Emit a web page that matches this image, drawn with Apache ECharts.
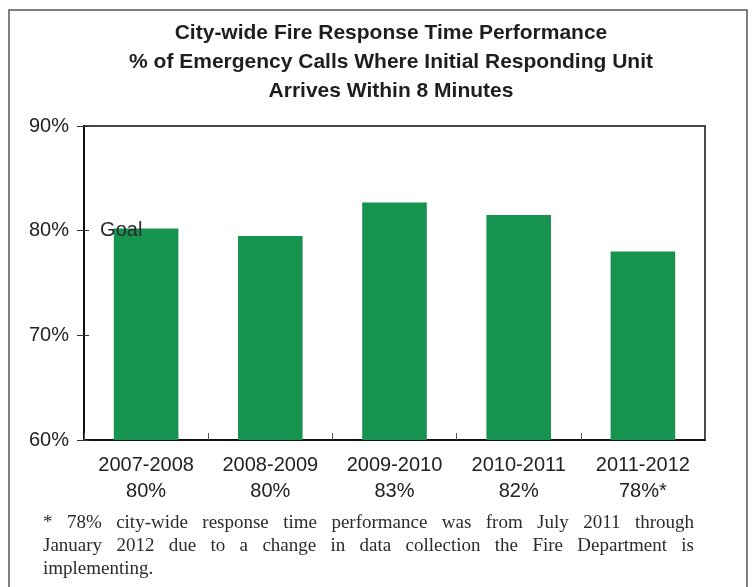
<!DOCTYPE html>
<html>
<head>
<meta charset="utf-8">
<script src="https://cdn.jsdelivr.net/npm/echarts@6/dist/echarts.min.js"></script>
<style>
  html, body { margin: 0; padding: 0; background: #fff; }
  #chart { width: 754px; height: 587px; }
</style>
</head>
<body>
<div id="chart"></div>
<script>
// Fiscal years and the share of emergency calls reached within 8 minutes (%)
const categories = ['2007-2008', '2008-2009', '2009-2010', '2010-2011', '2011-2012'];
const responsePct = [80.2, 79.5, 82.7, 81.5, 78.0];
const notes = ['', '', '', '', '*'];
const goalPct = 80;
const yTicks = [60, 70, 80, 90];

const titleLines = [
  'City-wide Fire Response Time Performance',
  '% of Emergency Calls Where Initial Responding Unit',
  'Arrives Within 8 Minutes'
];
const footnoteLines = [
  '* 78% city-wide response time performance was from July 2011 through',
  'January 2012 due to a change in data collection the Fire Department is',
  'implementing.'
];

const sans = "'Liberation Sans', Arial, sans-serif";
const serif = "'Liberation Serif', 'Times New Roman', serif";
const barColor = '#16934f';

// Category label: year on top, rounded value underneath
const labelFor = {};
categories.forEach((c, i) => {
  labelFor[c] = c + '\n' + Math.round(responsePct[i]) + '%' + notes[i];
});

// Justified footnote built word by word
const footFont = '19px ' + serif;
const measureCtx = document.createElement('canvas').getContext('2d');
measureCtx.font = footFont;
const footLeft = 43, footRight = 694, footTop = 525, footPitch = 23;
const footElems = [];
footnoteLines.forEach((line, li) => {
  const words = line.split(' ');
  const y = footTop + li * footPitch;
  const last = li === footnoteLines.length - 1;
  const widths = words.map(w => measureCtx.measureText(w).width);
  const total = widths.reduce((a, b) => a + b, 0);
  const gap = last || words.length < 2
    ? measureCtx.measureText(' ').width
    : (footRight - footLeft - total) / (words.length - 1);
  let x = footLeft;
  words.forEach((w, wi) => {
    footElems.push({
      type: 'text', left: x, top: y - 11, silent: true,
      style: { text: w, font: footFont, fill: '#2b2b2b' }
    });
    x += widths[wi] + gap;
  });
});

const chart = echarts.init(document.getElementById('chart'), null, { renderer: 'canvas' });

const yMin = yTicks[0], yMax = yTicks[yTicks.length - 1];
const yInterval = yTicks[1] - yTicks[0];

chart.setOption({
  backgroundColor: '#fff',
  animation: false,
  title: {
    text: titleLines.join('\n'),
    left: 386, top: 14, textAlign: 'center',
    textStyle: { fontFamily: sans, fontWeight: 'bold', fontSize: 21, lineHeight: 29, color: '#1e1e1e' }
  },
  grid: {
    left: 84, right: 49, top: 126, bottom: 147,
    show: true, borderColor: '#4a4a4a', borderWidth: 2, backgroundColor: 'transparent'
  },
  xAxis: {
    type: 'category',
    data: categories,
    boundaryGap: true,
    axisLine: { lineStyle: { color: '#111', width: 2 } },
    axisTick: { show: true, inside: true, interval: 0, length: 7, alignWithLabel: false, lineStyle: { color: '#555', width: 1 } },
    axisLabel: {
      interval: 0, hideOverlap: false,
      margin: 12,
      fontFamily: sans, fontSize: 20, lineHeight: 26, color: '#222',
      formatter: v => labelFor[v]
    },
    splitLine: { show: false }
  },
  yAxis: [
    {
      type: 'value', min: yMin, max: yMax, interval: yInterval,
      axisLine: { show: true, lineStyle: { color: '#111', width: 2 } },
      axisTick: { show: true, length: 7, lineStyle: { color: '#333', width: 1 } },
      axisLabel: { margin: 15, fontFamily: sans, fontSize: 20, color: '#222', formatter: v => v + '%' },
      splitLine: { show: false }
    },
    {
      // second copy of the scale: only its inward ticks, so each tick crosses the axis
      type: 'value', min: yMin, max: yMax, interval: yInterval, position: 'left', offset: 0,
      axisLine: { show: true, lineStyle: { color: '#111', width: 0, opacity: 0 } },
      axisTick: { show: true, inside: true, length: 5, lineStyle: { color: '#333', width: 1 } },
      axisLabel: { show: false },
      splitLine: { show: false }
    }
  ],
  series: [{
    type: 'bar',
    data: responsePct,
    barWidth: '52%',
    itemStyle: { color: barColor },
    markPoint: {
      symbol: 'rect', symbolSize: 0, silent: true,
      data: [{ coord: [categories[0], goalPct], value: goalPct }],
      label: {
        show: true, position: 'inside', formatter: 'Goal',
        align: 'left', offset: [-46, 0],
        fontFamily: sans, fontSize: 20, color: '#2a2a2a'
      }
    }
  }],
  graphic: [
    {
      type: 'rect', silent: true, z: -1,
      shape: { x: 9, y: 10, width: 738, height: 600 },
      style: { fill: 'none', stroke: '#555', lineWidth: 1.5 }
    }
  ].concat(footElems)
});
</script>
</body>
</html>
